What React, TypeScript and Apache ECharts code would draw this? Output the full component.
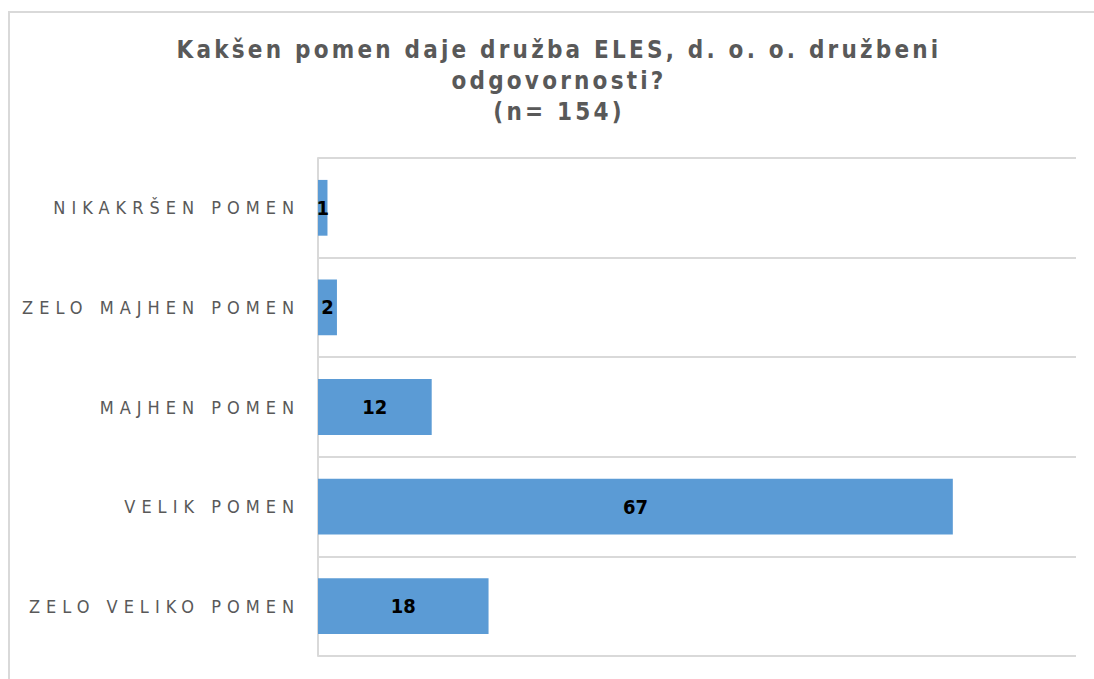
import React, { useEffect, useRef } from "react";
import * as echarts from "echarts";

const categories = [
  "NIKAKRŠEN POMEN",
  "ZELO MAJHEN POMEN",
  "MAJHEN POMEN",
  "VELIK POMEN",
  "ZELO VELIKO POMEN",
];
const values = [1, 2, 12, 67, 18];
const titleLines = [
  "Kakšen pomen daje družba ELES, d. o. o. družbeni",
  "odgovornosti?",
  "(n= 154)",
];
const axisMax = 80;

const NARROW = "'Liberation Sans Narrow', 'DejaVu Sans Condensed', 'Liberation Sans', Arial, sans-serif";

export default function App() {
  const ref = useRef<HTMLDivElement>(null);
  useEffect(() => {
    if (!ref.current) return;
    const chart = echarts.init(ref.current, null, { renderer: "svg" });
    chart.setOption({
      animation: false,
      backgroundColor: "#ffffff",
      title: {
        text: titleLines.join("\n"),
        left: 554,
        textAlign: "center",
        top: 29,
        textStyle: {
          fontFamily: NARROW,
          fontSize: 24,
          fontWeight: "bold",
          color: "#595959",
          lineHeight: 31,
        },
      },
      graphic: [
        {
          type: "rect",
          shape: { x: 9, y: 12, width: 1200, height: 800 },
          style: { fill: "none", stroke: "#d9d9d9", lineWidth: 2 },
          silent: true,
        },
      ],
      grid: { left: 318, top: 158, right: 18, bottom: 23, containLabel: false },
      xAxis: {
        type: "value",
        min: 0,
        max: axisMax,
        show: false,
      },
      yAxis: {
        type: "category",
        data: categories,
        inverse: true,
        axisTick: { show: false },
        axisLine: { show: true, lineStyle: { color: "#d9d9d9", width: 2 } },
        splitLine: { show: true, lineStyle: { color: "#d9d9d9", width: 2 } },
        axisLabel: {
          fontFamily: NARROW,
          fontSize: 18,
          color: "#595959",
          margin: 18,
        },
      },
      series: [
        {
          type: "bar",
          data: values,
          barCategoryGap: "44%",
          itemStyle: { color: "#5b9bd5" },
          label: {
            show: true,
            position: "inside",
            fontFamily: NARROW,
            fontSize: 20,
            fontWeight: "bold",
            color: "#000000",
          },
        },
      ],
    });
    const texts = ref.current.querySelectorAll("text");
    texts.forEach((t) => {
      const s = (t.textContent || "").trim();
      if (/^\d+$/.test(s)) return;
      if (categories.includes(s)) {
        (t as SVGTextElement).style.letterSpacing = "6px";
      } else {
        (t as SVGTextElement).style.letterSpacing = "3.2px";
      }
    });
    return () => chart.dispose();
  }, []);
  return (
    <div
      ref={ref}
      style={{ position: "fixed", left: 0, top: 0, width: 1094, height: 679 }}
    />
  );
}
